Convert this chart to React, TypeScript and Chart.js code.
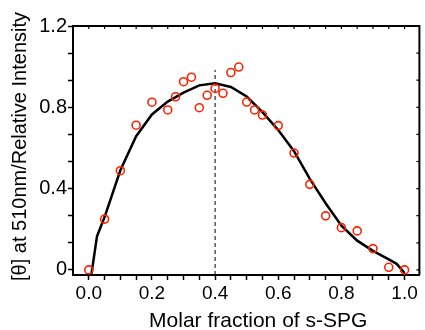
import React, { useEffect, useRef } from 'react';
import { Chart, registerables } from 'chart.js';

Chart.register(...registerables);

// Measured data points (red hollow circles)
const pointX = [0, 0.05, 0.1, 0.15, 0.2, 0.25, 0.275, 0.3, 0.325, 0.35, 0.375, 0.4, 0.425, 0.45, 0.475, 0.5, 0.525, 0.55, 0.6, 0.65, 0.7, 0.75, 0.8, 0.85, 0.9, 0.95, 1.0];
const pointY = [0.0, 0.25, 0.488, 0.712, 0.825, 0.787, 0.852, 0.926, 0.948, 0.798, 0.859, 0.893, 0.869, 0.971, 0.998, 0.826, 0.787, 0.762, 0.71, 0.575, 0.421, 0.266, 0.208, 0.192, 0.105, 0.013, 0.0];

// Fitted curve (black polyline)
const fitX = [0.008, 0.026, 0.05, 0.1, 0.15, 0.2, 0.25, 0.3, 0.35, 0.4, 0.45, 0.5, 0.55, 0.6, 0.65, 0.7, 0.75, 0.8, 0.85, 0.9, 0.95, 0.975, 1.0];
const fitY = [-0.025, 0.165, 0.26, 0.49, 0.658, 0.765, 0.828, 0.872, 0.908, 0.918, 0.9, 0.853, 0.776, 0.688, 0.584, 0.448, 0.328, 0.218, 0.144, 0.094, 0.052, 0.03, -0.015];

// Dashed marker at x = 0.4
const markerX = [0.4, 0.4];
const markerY = [-0.025, 0.984];

// Axis ticks and labels
const xTickValues = [0, 0.05, 0.1, 0.15, 0.2, 0.25, 0.3, 0.35, 0.4, 0.45, 0.5, 0.55, 0.6, 0.65, 0.7, 0.75, 0.8, 0.85, 0.9, 0.95, 1.0];
const xTickLabels = ['0.0', '', '', '', '0.2', '', '', '', '0.4', '', '', '', '0.6', '', '', '', '0.8', '', '', '', '1.0'];
const yTickValues = [0, 0.4 / 3, 0.8 / 3, 0.4, 1.6 / 3, 2.0 / 3, 0.8, 2.8 / 3, 3.2 / 3, 1.2];
const yTickLabels = ['0', '', '', '0.4', '', '', '0.8', '', '', '1.2'];

const xTitle = 'Molar fraction of s-SPG';
const yTitle = '[θ] at 510nm/Relative Intensity';

const FONT = '"Liberation Sans", Arial, Helvetica, sans-serif';

const framePlugin = {
  id: 'frameAndTitles',
  afterDatasetsDraw(chart: any) {
    const { ctx, chartArea, scales } = chart;
    const { left, right, top, bottom } = chartArea;
    const x = scales.x;
    const y = scales.y;
    ctx.save();
    ctx.strokeStyle = '#000';
    ctx.lineWidth = 2;
    ctx.beginPath();
    ctx.moveTo(left - 1, top);
    ctx.lineTo(right, top);
    ctx.lineTo(right, bottom);
    ctx.stroke();
    ctx.lineWidth = 1.2;
    ctx.beginPath();
    xTickValues.forEach((v) => {
      const px = x.getPixelForValue(v);
      ctx.moveTo(px, top);
      ctx.lineTo(px, top + 3);
    });
    yTickValues.forEach((v) => {
      const py = y.getPixelForValue(v);
      ctx.moveTo(right, py);
      ctx.lineTo(right - 3, py);
    });
    ctx.stroke();

    ctx.fillStyle = '#000';
    ctx.font = `21px ${FONT}`;
    ctx.textAlign = 'center';
    ctx.textBaseline = 'alphabetic';
    ctx.fillText(xTitle, (left + right) / 2 + 12, 327);

    ctx.save();
    ctx.font = `20px ${FONT}`;
    ctx.translate(20, (top + bottom) / 2 - 4);
    ctx.rotate(-Math.PI / 2);
    ctx.textAlign = 'center';
    ctx.textBaseline = 'middle';
    ctx.fillText(yTitle, 0, 0);
    ctx.restore();

    ctx.restore();
  },
};

export default function App() {
  const canvasRef = useRef<HTMLCanvasElement | null>(null);

  useEffect(() => {
    document.body.style.margin = '0';
    const canvas = canvasRef.current;
    if (!canvas) return;

    const points = pointX.map((v, i) => ({ x: v, y: pointY[i] }));
    const fit = fitX.map((v, i) => ({ x: v, y: fitY[i] }));
    const marker = markerX.map((v, i) => ({ x: v, y: markerY[i] }));

    const chart = new Chart(canvas, {
      type: 'scatter',
      data: {
        datasets: [
          {
            label: 'data',
            data: points,
            showLine: false,
            pointStyle: 'circle',
            pointRadius: 4,
            pointBorderWidth: 1.6,
            pointBorderColor: '#ff2200',
            pointBackgroundColor: 'rgba(0,0,0,0)',
          },
          {
            label: 'fit',
            data: fit,
            showLine: true,
            borderColor: '#000',
            borderWidth: 2.5,
            pointRadius: 0,
            tension: 0,
          },
          {
            label: 'marker',
            data: marker,
            showLine: true,
            borderColor: '#000',
            borderWidth: 1,
            borderDash: [4, 3],
            pointRadius: 0,
          },
        ],
      },
      options: {
        responsive: false,
        animation: false,
        events: [],
        layout: { padding: { left: 0, top: 26, right: 1, bottom: 0 } },
        plugins: {
          legend: { display: false },
          tooltip: { enabled: false },
          title: { display: false },
        },
        scales: {
          x: {
            type: 'linear',
            min: -0.05,
            max: 1.047,
            afterBuildTicks: (scale: any) => {
              scale.ticks = xTickValues.map((v) => ({ value: v }));
            },
            afterFit: (scale: any) => {
              scale.height = 55;
            },
            grid: {
              drawOnChartArea: false,
              drawTicks: true,
              tickLength: 5,
              tickColor: '#000',
              tickWidth: 1.5,
            },
            border: { display: true, color: '#000', width: 2 },
            ticks: {
              autoSkip: false,
              maxRotation: 0,
              padding: 2,
              color: '#000',
              font: { family: FONT, size: 19 },
              callback: (_v: any, i: number) => xTickLabels[i] ?? '',
            },
          },
          y: {
            type: 'linear',
            min: -0.025,
            max: 1.2,
            afterBuildTicks: (scale: any) => {
              scale.ticks = yTickValues.map((v) => ({ value: v }));
            },
            afterFit: (scale: any) => {
              scale.width = 73;
            },
            grid: {
              drawOnChartArea: false,
              drawTicks: true,
              tickLength: 5,
              tickColor: '#000',
              tickWidth: 1.5,
            },
            border: { display: true, color: '#000', width: 2 },
            ticks: {
              autoSkip: false,
              padding: 1,
              color: '#000',
              font: { family: FONT, size: 20 },
              callback: (_v: any, i: number) => yTickLabels[i] ?? '',
            },
          },
        },
      },
      plugins: [framePlugin],
    });

    return () => {
      chart.destroy();
    };
  }, []);

  return (
    <div style={{ width: 425, height: 330 }}>
      <canvas ref={canvasRef} width={425} height={330} style={{ display: 'block' }} />
    </div>
  );
}
